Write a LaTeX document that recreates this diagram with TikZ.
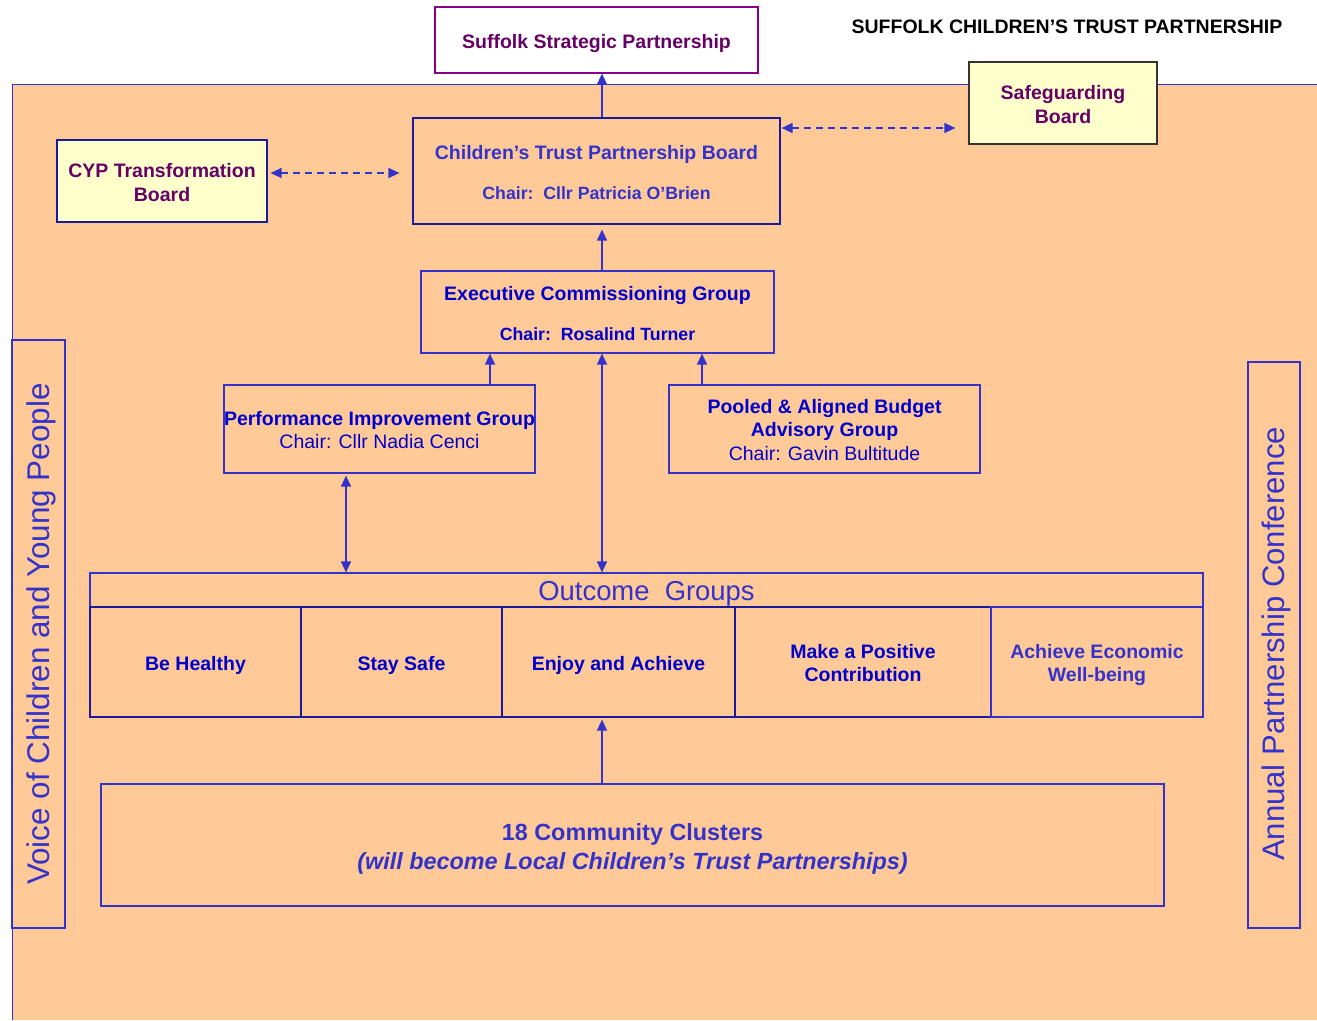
\documentclass[tikz,border=0pt]{standalone}
\usepackage{fontspec}
\setmainfont{Liberation Sans}
\usetikzlibrary{arrows.meta}
\definecolor{peach}{HTML}{FFCA98}
\definecolor{paleyellow}{HTML}{FFFFCC}
\definecolor{textblue}{HTML}{3333CC}
\definecolor{darkblue}{HTML}{0000CC}
\definecolor{navy}{HTML}{1A1A9A}
\definecolor{plum}{HTML}{660066}
\definecolor{sspline}{HTML}{880088}
\definecolor{greyline}{HTML}{333333}
\begin{document}
\begin{tikzpicture}[x=1pt,y=-1pt,
  box/.style={draw=navy, line width=1.2pt, inner sep=0pt, fill=peach},
  ybox/.style={box, fill=paleyellow},
  txt/.style={inner sep=0pt, align=center},
  big/.style={font=\fontsize{19.5}{23.5}\selectfont\bfseries},
  arr/.style={draw=textblue, line width=1.4pt, -{Triangle[length=11pt,width=10pt]}},
  darr/.style={draw=textblue, line width=1.4pt, {Triangle[length=11pt,width=10pt]}-{Triangle[length=11pt,width=10pt]}},
  dasharr/.style={darr, dash pattern=on 7pt off 5pt}]
\useasboundingbox (0,0) rectangle (1317,1020);
% background panel
\fill[peach] (12,84) rectangle (1317,1020);
\draw[textblue, line width=1pt] (12,1020) -- (12,84) -- (1317,84);

% boxes
\node[box, draw=sspline, fill=white, minimum width=323pt, minimum height=66pt] (ssp) at (596.5,40) {};
\node[ybox, draw=greyline, minimum width=188pt, minimum height=82pt] (sg) at (1063,103) {};
\node[ybox, minimum width=210pt, minimum height=82pt] (cyp) at (162,181) {};
\node[box, minimum width=367pt, minimum height=106pt] (ctpb) at (596.5,171) {};
\node[box, draw=textblue, minimum width=353pt, minimum height=82pt] (ecg) at (597.5,312) {};
\node[box, draw=textblue, minimum width=311pt, minimum height=88pt] (pig) at (379.5,429) {};
\node[box, draw=textblue, minimum width=311pt, minimum height=88pt] (pab) at (824.5,429) {};
\node[box, draw=textblue, minimum width=1113pt, minimum height=34pt] (og) at (646.5,590) {};
\node[box, minimum width=211pt, minimum height=110pt] (bh) at (195.5,662) {};
\node[box, minimum width=201pt, minimum height=110pt] (ss) at (401.5,662) {};
\node[box, minimum width=233pt, minimum height=110pt] (ea) at (618.5,662) {};
\node[box, minimum width=256pt, minimum height=110pt] (mp) at (863,662) {};
\node[box, draw=textblue, minimum width=212pt, minimum height=110pt] (ae) at (1097,662) {};
\node[box, draw=textblue, minimum width=1063pt, minimum height=122pt] (cc) at (632.5,845) {};
\node[box, draw=textblue, minimum width=53pt, minimum height=588pt] (voice) at (38.5,634) {};
\node[box, draw=textblue, minimum width=52pt, minimum height=566pt] (apc) at (1274,645) {};

% texts
\node[txt, big, text=plum] (ssp-t) at ([yshift=-3pt]ssp.center) {Suffolk Strategic Partnership};
\node[txt, big, text=black] (title) at (1067,27) {SUFFOLK CHILDREN’S TRUST PARTNERSHIP};
\node[txt, big, text=plum] (sg-t) at ([yshift=-1.5pt]sg.center) {Safeguarding\\Board};
\node[txt, big, text=plum] (cyp-t) at ([yshift=-1.5pt]cyp.center) {CYP Transformation\\Board};
\node[txt, big, text=textblue] (ctpb-t) at ([yshift=-1.5pt]ctpb.center)
  {Children’s Trust Partnership Board\\[17pt]{\fontsize{17.7}{21}\selectfont Chair:\ \ Cllr Patricia O’Brien}};
\node[txt, big, text=darkblue] (ecg-t) at ([yshift=-1.5pt]ecg.center)
  {Executive Commissioning Group\\[17pt]{\fontsize{17.7}{21}\selectfont Chair:\ \ Rosalind Turner}};
\node[txt, big, text=darkblue] (pig-t) at ([yshift=-1pt]pig.center)
  {Performance Improvement Group\\\mdseries Chair: Cllr Nadia Cenci};
\node[txt, big, text=darkblue] (pab-t) at ([yshift=-1pt]pab.center)
  {Pooled \& Aligned Budget\\Advisory Group\\\mdseries Chair: Gavin Bultitude};
\node[txt, text=textblue, font=\fontsize{27.4}{30}\selectfont] (og-t) at ([yshift=-4pt]og.center) {Outcome\ \ Groups};
\node[txt, big, text=darkblue] (bh-t) at ([yshift=-3pt]bh.center) {Be Healthy};
\node[txt, big, text=darkblue] (ss-t) at ([yshift=-3pt]ss.center) {Stay Safe};
\node[txt, big, text=darkblue] (ea-t) at ([yshift=-3pt]ea.center) {Enjoy and Achieve};
\node[txt, big, text=darkblue] (mp-t) at ([yshift=-1pt]mp.center) {Make a Positive\\Contribution};
\node[txt, big, text=textblue] (ae-t) at ([yshift=-3pt]ae.center) {Achieve Economic\\Well-being};
\node[txt, text=textblue, font=\fontsize{23.4}{29}\selectfont\bfseries] (cc-t) at ([yshift=-4pt]cc.center)
  {18 Community Clusters\\\itshape (will become Local Children’s Trust Partnerships)};
\node[txt, text=textblue, font=\fontsize{31.4}{36}\selectfont, rotate=90] (voice-t) at ([xshift=2.5pt]voice.center) {Voice of Children and Young People};
\node[txt, text=textblue, font=\fontsize{31.1}{36}\selectfont, rotate=90] (apc-t) at ([xshift=2.5pt,yshift=1pt]apc.center) {Annual Partnership Conference};

% connectors
\coordinate (c602) at (602,0);
\coordinate (c490) at (490,0);
\coordinate (c702) at (702,0);
\coordinate (c346) at (346,0);
\coordinate (dl) at (0,173);
\coordinate (dr) at (0,128);
\draw[arr] (c602 |- ctpb.north) -- (c602 |- ssp.south);
\draw[arr, shorten >=5pt] (c602 |- ecg.north) -- (c602 |- ctpb.south);
\draw[arr] (c490 |- pig.north) -- (c490 |- ecg.south);
\draw[arr] (c702 |- pab.north) -- (c702 |- ecg.south);
\draw[darr] (c602 |- ecg.south) -- (c602 |- og.north);
\draw[darr, shorten <=2pt] (c346 |- pig.south) -- (c346 |- og.north);
\draw[arr, shorten >=2pt] (c602 |- cc.north) -- (c602 |- ea.south);
\draw[dasharr, shorten <=3pt, shorten >=13pt] (cyp.east |- dl) -- (ctpb.west |- dl);
\draw[dasharr, shorten <=1pt, shorten >=13pt] (ctpb.east |- dr) -- (sg.west |- dr);
\end{tikzpicture}
\end{document}
